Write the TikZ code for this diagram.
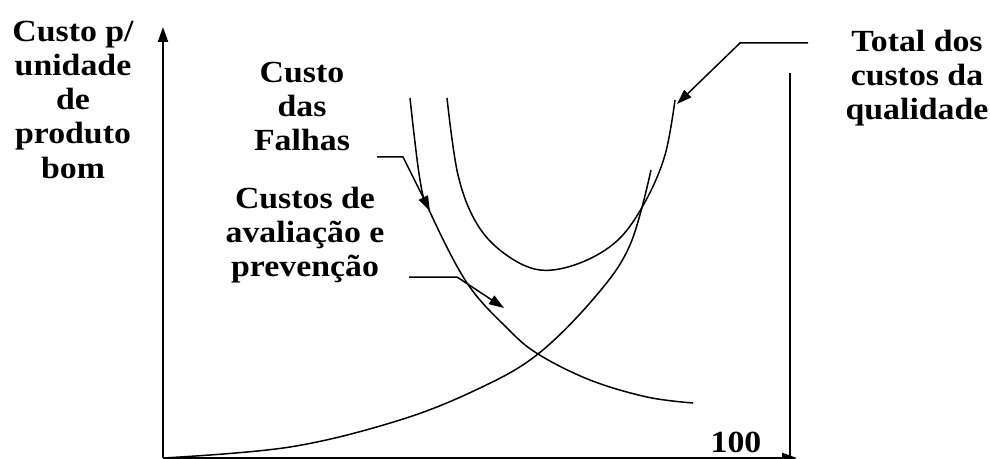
\documentclass[tikz,border=0pt]{standalone}
\usepackage{fontspec}
\setmainfont[FakeStretch=1.1]{Liberation Serif}
\usetikzlibrary{arrows.meta}
\tikzset{
  rotulo/.style={align=center, inner sep=0pt, anchor=north, font=\bfseries\fontsize{17.5}{19.4}\selectfont},
  seta/.style={line width=0.3mm, -{Triangle[length=3mm, width=2mm]}},
  curva/.style={line width=0.3mm}
}
\begin{document}
\begin{tikzpicture}[x=0.02cm, y=-0.02cm]
		%%%%% START %%%%%
		\useasboundingbox (0, 0) rectangle (990, 459);
		
		% eixos
		\coordinate (origem) at (163, 458);
		\coordinate (topoy) at (163, 27);
		\coordinate (fimx) at (797, 458);
		\draw[line width=0.4mm, -{Triangle[length=3mm, width=2mm]}] (origem) -- (topoy);
		\draw[line width=0.4mm, -{Triangle[length=3mm, width=2mm]}] (origem) -- (fimx);
		\draw[line width=0.3mm] (790, 73) -- (790, 458);
		
		% curvas
		\draw[curva] plot[smooth, tension=0.6] coordinates {(410, 98) (420, 180) (430, 212) (467, 283) (507, 328) (538, 354) (590, 380) (647, 397) (693, 403)};
		\draw[curva] plot[smooth, tension=0.6] coordinates {(163, 458) (290, 447) (400, 420) (480, 388) (538, 354) (595, 297) (630, 245) (651, 170)};
		\draw[curva] plot[smooth, tension=0.6] coordinates {(447, 98) (458, 175) (477, 224) (505, 254) (540, 270) (580, 263) (618, 240) (645, 202) (665, 155) (675, 100)};
		
		% textos
		\node[rotulo] (eixo) at (73, 21) {Custo p/\\unidade\\de\\produto\\bom};
		\node[rotulo] (falhas) at (302, 62) {Custo\\das\\Falhas};
		\node[rotulo] (prevencao) at (305, 187) {Custos de\\avaliação e\\prevenção};
		\node[rotulo] (total) at (917, 30) {Total dos\\custos da\\qualidade};
		\node[rotulo, anchor=base] (cem) at (736, 452) {100};
		
		% setas
		\coordinate (falhasA) at (377, 157);
		\coordinate (falhasB) at (403, 157);
		\coordinate (falhasC) at (430, 211);
		\draw[seta] (falhasA) -- (falhasB) -- (falhasC);
		
		\coordinate (prevA) at (409, 277);
		\coordinate (prevB) at (457, 277);
		\coordinate (prevC) at (504, 308);
		\draw[seta] (prevA) -- (prevB) -- (prevC);
		
		\coordinate (totalA) at (808, 43);
		\coordinate (totalB) at (740, 43);
		\coordinate (totalC) at (677, 104);
		\draw[seta] (totalA) -- (totalB) -- (totalC);
		%%%%% END %%%%%
	\end{tikzpicture}
\end{document}
